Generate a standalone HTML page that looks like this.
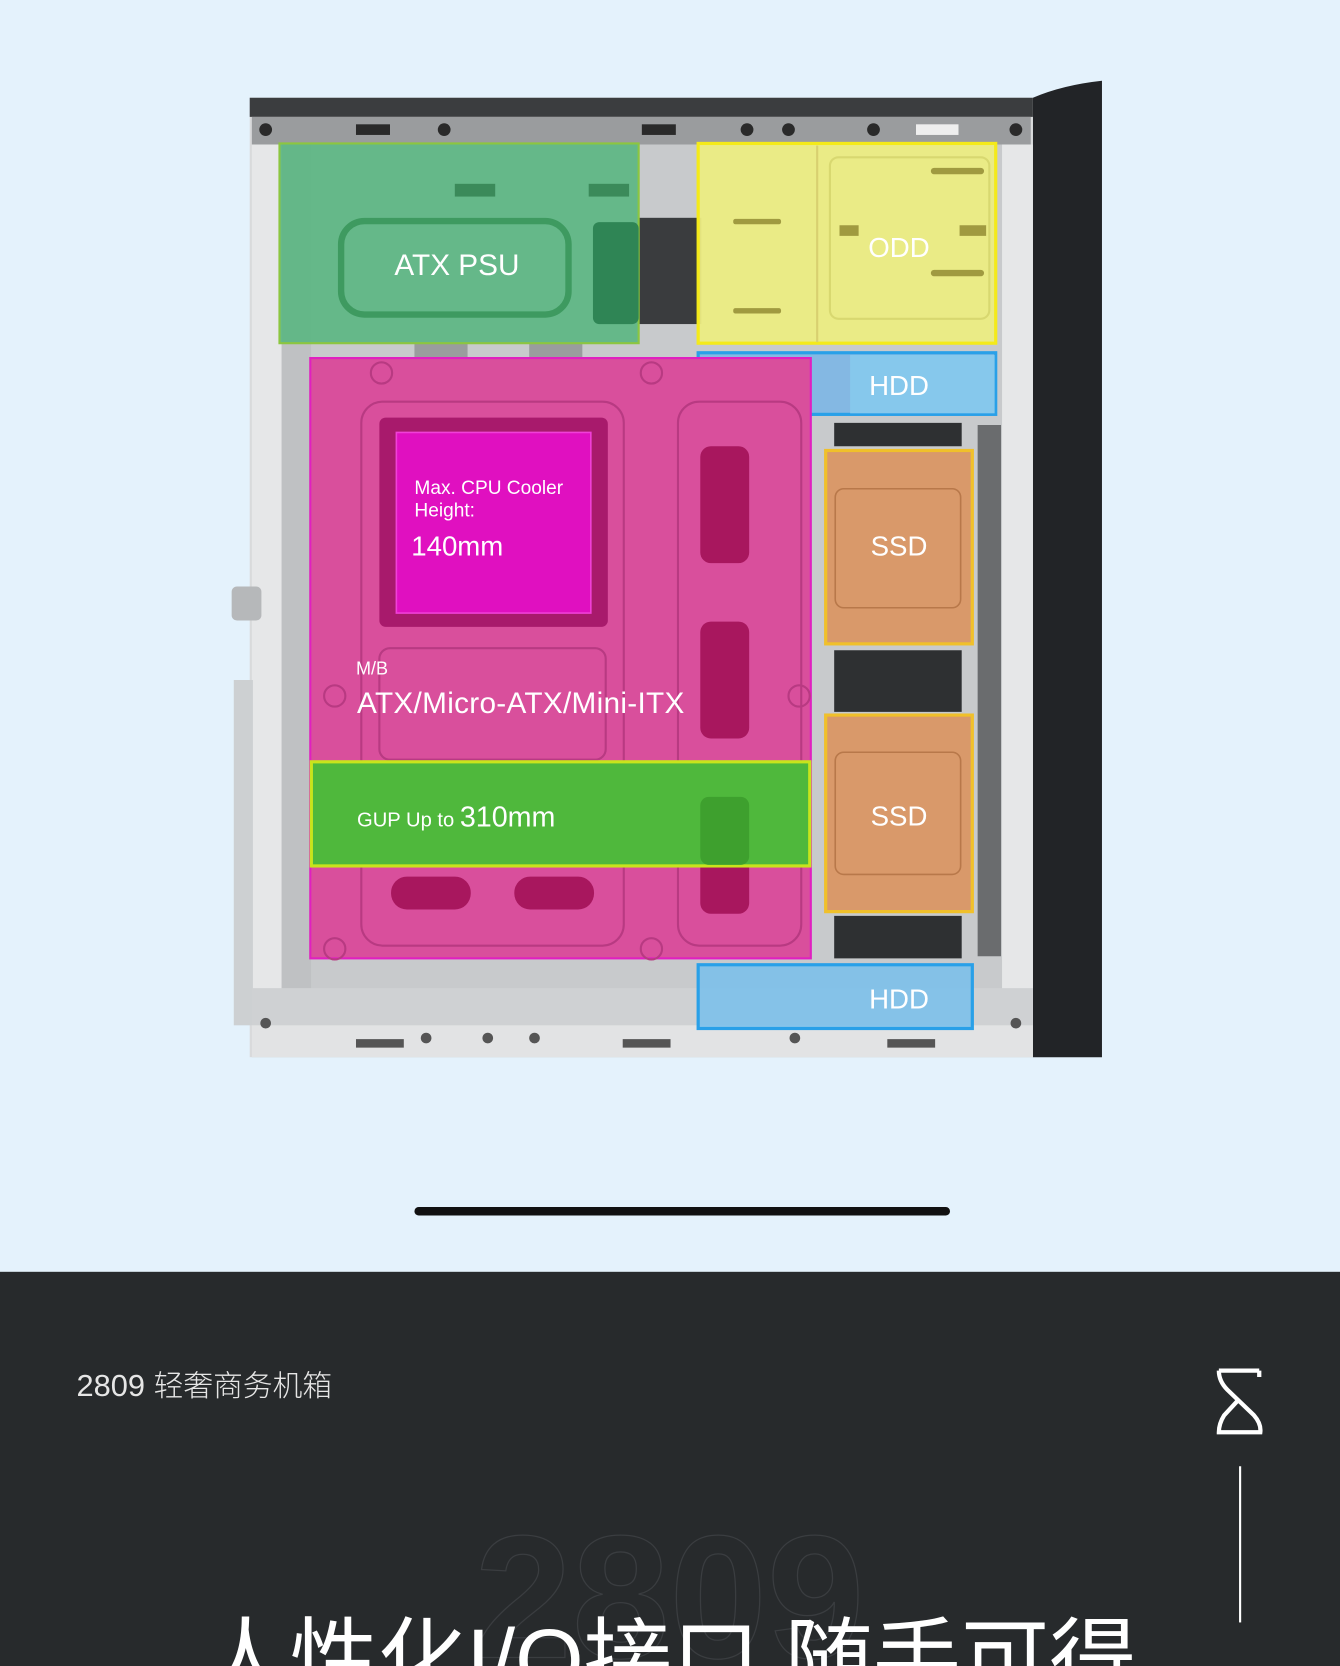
<!DOCTYPE html>
<html><head><meta charset="utf-8"><style>
html,body{margin:0;padding:0;background:#e4f2fc;}
svg{display:block;width:1340px;height:1666px;}
text{font-family:"Liberation Sans","Noto Sans CJK SC",sans-serif;}
</style></head><body>
<svg viewBox="0 0 1261 1568" preserveAspectRatio="none" xmlns="http://www.w3.org/2000/svg">
<rect x="0" y="0" width="1261" height="1197" fill="#e4f2fc"/>
<path d="M972 92 L972 995 L1037 995 L1037 76 Q1000 80 972 92 Z" fill="#222427"/>
<rect x="235" y="92" width="737" height="903" fill="#d9dadb"/>
<rect x="235" y="92" width="737" height="18" fill="#3b3d3f"/>
<rect x="237" y="110" width="733" height="26" fill="#9a9c9e"/>
<g fill="#2a2a2a">
<circle cx="250" cy="122" r="6"/><circle cx="418" cy="122" r="6"/><circle cx="703" cy="122" r="6"/><circle cx="742" cy="122" r="6"/><circle cx="822" cy="122" r="6"/><circle cx="956" cy="122" r="6"/>
<rect x="335" y="117" width="32" height="10"/><rect x="604" y="117" width="32" height="10"/><rect x="862" y="117" width="40" height="10" fill="#eee"/>
</g>
<rect x="237" y="136" width="28" height="830" fill="#e6e7e8"/>
<rect x="265" y="136" width="28" height="830" fill="#bfc1c3"/>
<rect x="220" y="640" width="18" height="325" fill="#cdd0d2"/>
<rect x="218" y="552" width="28" height="32" rx="5" fill="#b6b8ba"/>
<rect x="293" y="136" width="650" height="820" fill="#c8cacc"/>
<rect x="600" y="205" width="60" height="100" fill="#3a3c3e"/>
<rect x="785" y="398" width="120" height="22" fill="#2e3032"/>
<rect x="785" y="612" width="120" height="58" fill="#2e3032"/>
<rect x="785" y="862" width="120" height="40" fill="#2e3032"/>
<rect x="920" y="400" width="22" height="500" fill="#6a6c6e"/>
<rect x="943" y="136" width="29" height="830" fill="#e6e7e8"/>
<rect x="237" y="930" width="735" height="65" fill="#cfd1d3"/>
<rect x="237" y="965" width="735" height="30" fill="#e2e3e4"/>
<g fill="#555"><circle cx="250" cy="963" r="5"/><circle cx="956" cy="963" r="5"/><circle cx="401" cy="977" r="5"/><circle cx="459" cy="977" r="5"/><circle cx="503" cy="977" r="5"/><circle cx="748" cy="977" r="5"/>
<rect x="335" y="978" width="45" height="8"/><rect x="586" y="978" width="45" height="8"/><rect x="835" y="978" width="45" height="8"/></g>
<rect x="390" y="323" width="50" height="16" fill="#9a9c9e"/><rect x="498" y="323" width="50" height="16" fill="#9a9c9e"/>

<rect x="263" y="135" width="338" height="188" fill="#5cb683" fill-opacity="0.92" stroke="#8cc640" stroke-width="2"/>
<rect x="321" y="208" width="214" height="88" rx="22" fill="none" stroke="#3e9a60" stroke-width="6"/>
<rect x="558" y="209" width="43" height="96" rx="6" fill="#2f8555"/>
<rect x="428" y="173" width="38" height="12" fill="#3b8a5a"/><rect x="554" y="173" width="38" height="12" fill="#3b8a5a"/>
<text x="430" y="259" font-size="28" fill="#fff" text-anchor="middle">ATX PSU</text>

<rect x="657" y="135" width="280" height="188" fill="#ecec82" fill-opacity="0.95" stroke="#f4ea1a" stroke-width="3"/>
<rect x="781" y="148" width="150" height="152" rx="8" fill="none" stroke="#d8d870" stroke-width="2"/>
<rect x="768" y="137" width="2" height="185" fill="#d8d070"/>
<g fill="#a09a40"><rect x="876" y="158" width="50" height="6" rx="3"/><rect x="876" y="254" width="50" height="6" rx="3"/><rect x="690" y="206" width="45" height="5" rx="2"/><rect x="690" y="290" width="45" height="5" rx="2"/><rect x="790" y="212" width="18" height="10"/><rect x="903" y="212" width="25" height="10"/></g>
<text x="846" y="242" font-size="26" fill="#fff" text-anchor="middle">ODD</text>

<rect x="657" y="332" width="280" height="58" fill="#7cb6e6" fill-opacity="0.9" stroke="#29a0e8" stroke-width="3"/>
<rect x="800" y="334" width="136" height="55" fill="#86c8ec"/>
<text x="846" y="372" font-size="26" fill="#fff" text-anchor="middle">HDD</text>

<rect x="292" y="337" width="471" height="565" fill="#d94f9c" stroke="#e020c0" stroke-width="2"/>
<rect x="340" y="378" width="247" height="512" rx="20" fill="none" stroke="#b83a82" stroke-width="2"/>
<rect x="638" y="378" width="116" height="512" rx="20" fill="none" stroke="#b83a82" stroke-width="2"/>
<rect x="357" y="610" width="213" height="105" rx="10" fill="none" stroke="#b83a82" stroke-width="2"/>
<g fill="#a8175e"><rect x="659" y="420" width="46" height="110" rx="10"/><rect x="659" y="585" width="46" height="110" rx="10"/><rect x="659" y="750" width="46" height="110" rx="10"/>
<rect x="368" y="825" width="75" height="31" rx="15"/><rect x="484" y="825" width="75" height="31" rx="15"/></g>
<g fill="none" stroke="#b83a82" stroke-width="2"><circle cx="359" cy="351" r="10"/><circle cx="613" cy="351" r="10"/><circle cx="315" cy="655" r="10"/><circle cx="752" cy="655" r="10"/><circle cx="315" cy="893" r="10"/><circle cx="613" cy="893" r="10"/></g>
<rect x="357" y="393" width="215" height="197" rx="6" fill="#a81a6c"/>
<rect x="373" y="407" width="183" height="170" fill="#e010c0" stroke="#f040d8" stroke-width="1.5"/>
<text x="390" y="465" font-size="18" fill="#fff">Max. CPU Cooler</text>
<text x="390" y="486" font-size="18" fill="#fff">Height:</text>
<text x="387" y="523" font-size="26" fill="#fff">140mm</text>
<text x="335" y="635" font-size="17" fill="#fff">M/B</text>
<text x="336" y="671" font-size="28" fill="#fff" textLength="308">ATX/Micro-ATX/Mini-ITX</text>

<rect x="293" y="717" width="469" height="98" fill="#4fb83c" stroke="#c8e41c" stroke-width="3"/>
<rect x="659" y="750" width="46" height="64" rx="8" fill="#3ea02e"/>
<text x="336" y="778"><tspan font-size="19" fill="#fff">GUP Up to </tspan><tspan font-size="27" fill="#fff">310mm</tspan></text>

<rect x="777" y="424" width="138" height="182" fill="#d9996a" stroke="#f0c02a" stroke-width="3"/>
<rect x="786" y="460" width="118" height="112" rx="8" fill="none" stroke="#b8784a" stroke-width="1.5"/>
<rect x="777" y="673" width="138" height="185" fill="#d9996a" stroke="#f0c02a" stroke-width="3"/>
<rect x="786" y="708" width="118" height="115" rx="8" fill="none" stroke="#b8784a" stroke-width="1.5"/>
<text x="846" y="523" font-size="26" fill="#fff" text-anchor="middle">SSD</text>
<text x="846" y="777" font-size="26" fill="#fff" text-anchor="middle">SSD</text>
<rect x="657" y="908" width="258" height="60" fill="#7cc0ea" fill-opacity="0.9" stroke="#29a0e8" stroke-width="3"/>
<text x="846" y="949" font-size="26" fill="#fff" text-anchor="middle">HDD</text>

<rect x="390" y="1136" width="504" height="8" rx="4" fill="#111"/>

<rect x="0" y="1197" width="1261" height="371" fill="#272a2c"/>
<text x="72" y="1314" font-size="29" fill="#e6e6e6" font-weight="300">2809 <tspan font-size="28">轻奢商务机箱</tspan></text>
<text x="630" y="1560" font-size="165" font-weight="bold" fill="none" stroke="#3a3d40" stroke-width="1.2" text-anchor="middle">2809</text>
<text x="630" y="1591" font-size="83" fill="#fff" text-anchor="middle">人性化I/O接口 随手可得</text>
<path d="M1147 1290 H1185 M1147 1290 Q1147 1300 1155 1308 L1180 1332 Q1187 1340 1186 1348 H1147 Q1147 1340 1152 1332 L1165 1318 M1185 1290 L1185 1296" fill="none" stroke="#fff" stroke-width="4"/>
<rect x="1166" y="1380" width="2" height="147" fill="#fff"/>
</svg>
</body></html>
